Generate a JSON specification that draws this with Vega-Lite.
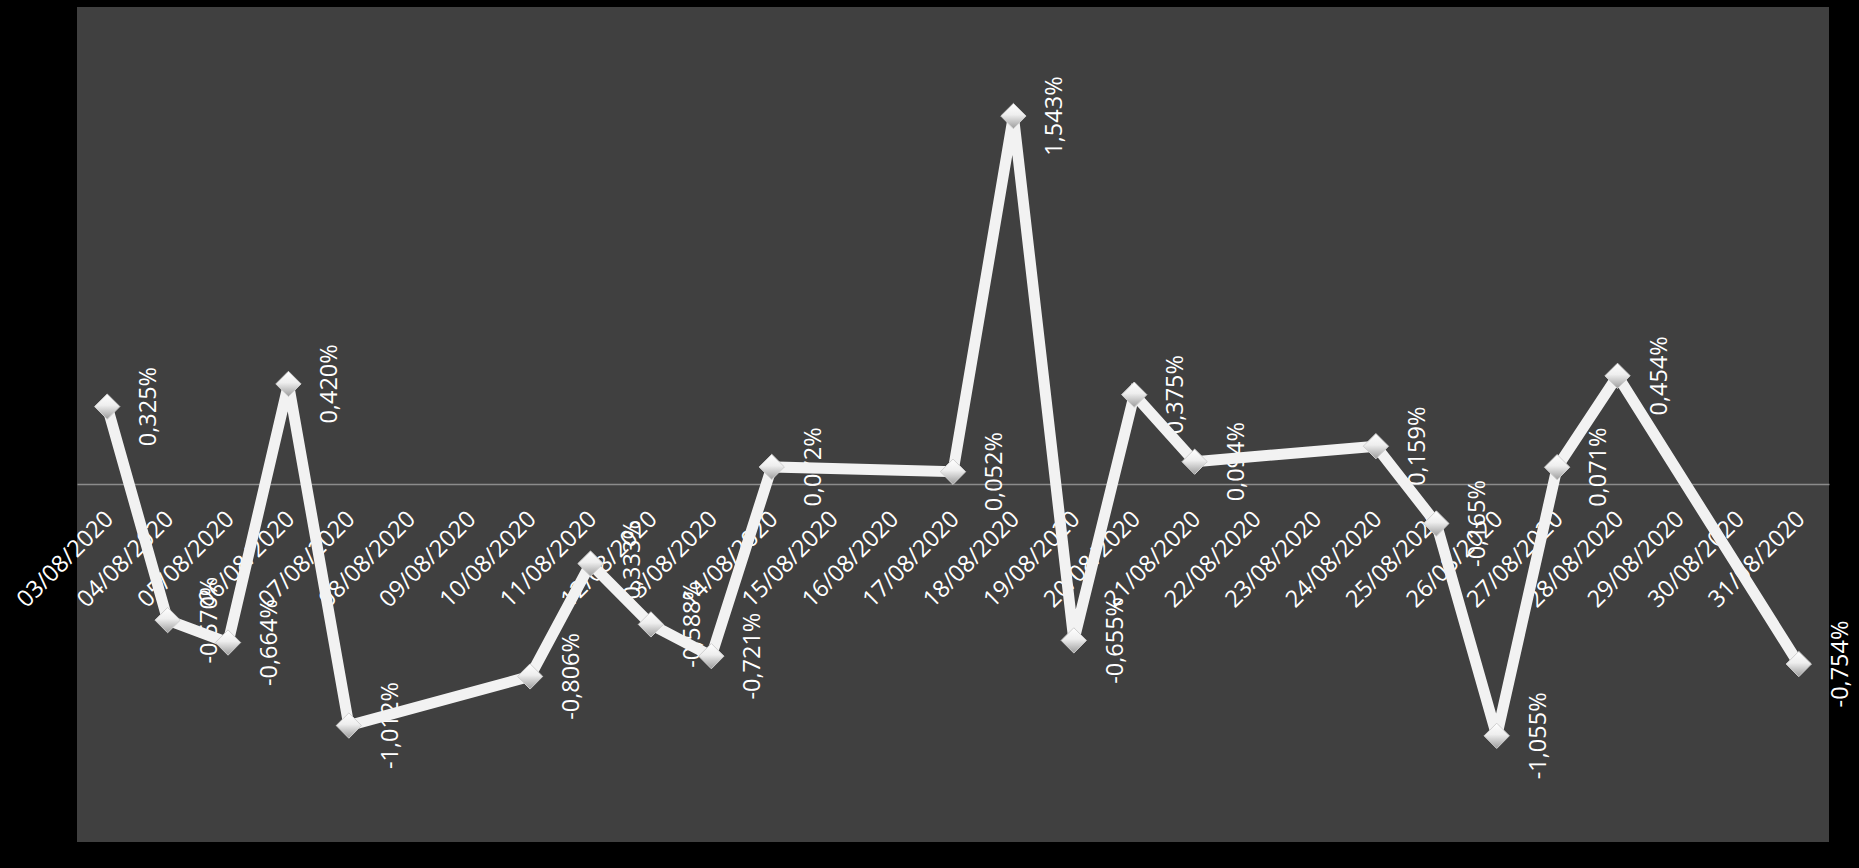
{
  "$schema": "https://vega.github.io/schema/vega-lite/v6.json",
  "width": 1752,
  "height": 835,
  "autosize": {"type": "none"},
  "padding": {"left": 77, "top": 7, "right": 30, "bottom": 26},
  "background": "#000000",
  "view": {"fill": "#404040", "stroke": null},
  "config": {"font": "Open Sans"},
  "data": {
    "values": [
      {"date": "03/08/2020", "value": 0.325, "label": "0,325%"},
      {"date": "04/08/2020", "value": -0.570, "label": "-0,570%"},
      {"date": "05/08/2020", "value": -0.664, "label": "-0,664%"},
      {"date": "06/08/2020", "value": 0.420, "label": "0,420%"},
      {"date": "07/08/2020", "value": -1.012, "label": "-1,012%"},
      {"date": "10/08/2020", "value": -0.806, "label": "-0,806%"},
      {"date": "11/08/2020", "value": -0.333, "label": "-0,333%"},
      {"date": "12/08/2020", "value": -0.588, "label": "-0,588%"},
      {"date": "13/08/2020", "value": -0.721, "label": "-0,721%"},
      {"date": "14/08/2020", "value": 0.072, "label": "0,072%"},
      {"date": "17/08/2020", "value": 0.052, "label": "0,052%"},
      {"date": "18/08/2020", "value": 1.543, "label": "1,543%"},
      {"date": "19/08/2020", "value": -0.655, "label": "-0,655%"},
      {"date": "20/08/2020", "value": 0.375, "label": "0,375%"},
      {"date": "21/08/2020", "value": 0.094, "label": "0,094%"},
      {"date": "24/08/2020", "value": 0.159, "label": "0,159%"},
      {"date": "25/08/2020", "value": -0.165, "label": "-0,165%"},
      {"date": "26/08/2020", "value": -1.055, "label": "-1,055%"},
      {"date": "27/08/2020", "value": 0.071, "label": "0,071%"},
      {"date": "28/08/2020", "value": 0.454, "label": "0,454%"},
      {"date": "31/08/2020", "value": -0.754, "label": "-0,754%"}
    ]
  },
  "encoding": {
    "x": {
      "field": "date",
      "type": "ordinal",
      "sort": null,
      "scale": {
        "type": "point",
        "padding": 0.5,
        "domain": ["03/08/2020","04/08/2020","05/08/2020","06/08/2020","07/08/2020","08/08/2020","09/08/2020","10/08/2020","11/08/2020","12/08/2020","13/08/2020","14/08/2020","15/08/2020","16/08/2020","17/08/2020","18/08/2020","19/08/2020","20/08/2020","21/08/2020","22/08/2020","23/08/2020","24/08/2020","25/08/2020","26/08/2020","27/08/2020","28/08/2020","29/08/2020","30/08/2020","31/08/2020"]
      },
      "axis": {
        "title": null,
        "labelAngle": -45,
        "labelAlign": "right",
        "labelBaseline": "middle",
        "labelColor": "#ffffff",
        "labelFontSize": 23.5,
        "labelFont": "Open Sans",
        "ticks": false,
        "labelPadding": 31,
        "labelOffset": 2,
        "labelOverlap": false,
        "labelBound": false,
        "labelFlush": false,
        "domainColor": "#8c8c8c",
        "domainWidth": 1.5,
        "offset": -357.9,
        "grid": false
      }
    },
    "y": {
      "field": "value",
      "type": "quantitative",
      "scale": {"domain": [-1.5, 2], "nice": false, "zero": false},
      "axis": null
    }
  },
  "layer": [
    {
      "mark": {"type": "text", "angle": 270, "align": "center", "baseline": "middle", "dy": 42, "fontSize": 23.5, "color": "#ffffff", "font": "Open Sans"},
      "encoding": {"text": {"field": "label"}}
    },
    {
      "mark": {"type": "line", "color": "#f2f2f2", "strokeWidth": 11, "strokeJoin": "miter"}
    },
    {
      "mark": {
        "type": "point",
        "shape": "diamond",
        "size": 640,
        "filled": true,
        "opacity": 1,
        "fill": {"gradient": "linear", "x1": 0, "y1": 0, "x2": 0, "y2": 1, "stops": [{"offset": 0, "color": "#ffffff"}, {"offset": 0.45, "color": "#eeeeee"}, {"offset": 1, "color": "#9c9c9c"}]},
        "stroke": "#cfcfcf",
        "strokeWidth": 1
      }
    }
  ]
}
